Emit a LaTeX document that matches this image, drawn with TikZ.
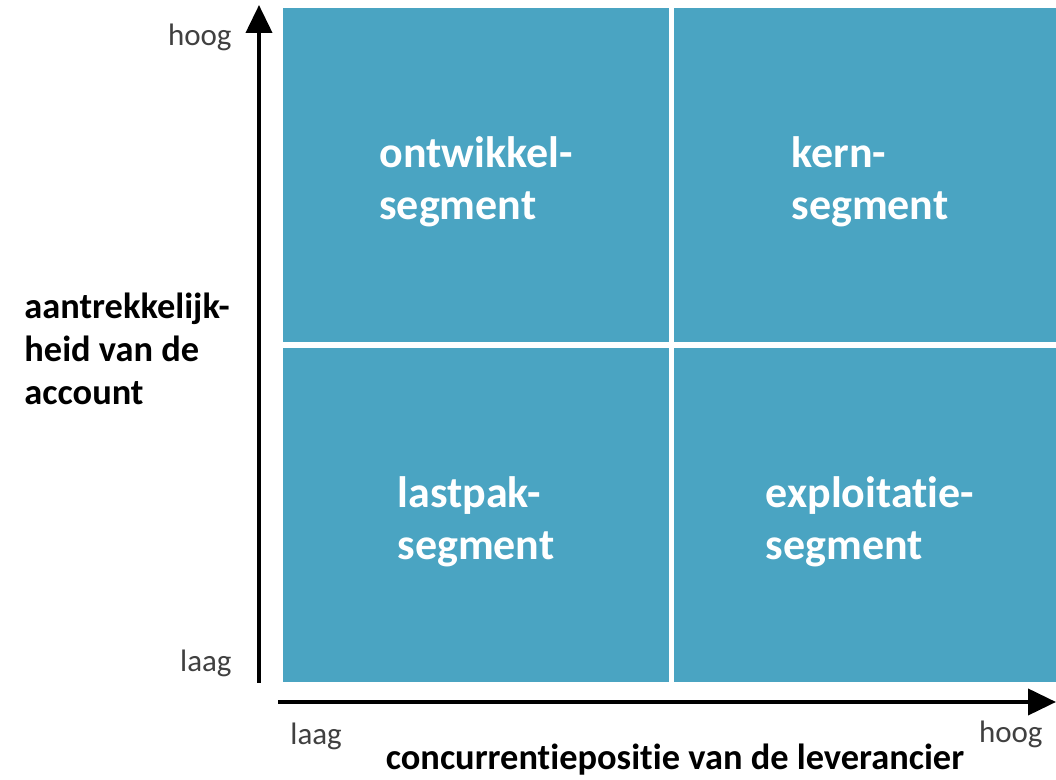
\documentclass[tikz,border=0pt]{standalone}
\usepackage{fontspec}
\setmainfont[Ligatures=NoCommon]{Carlito}
\usetikzlibrary{arrows.meta}
\definecolor{segblue}{RGB}{74,164,194}

\begin{document}
\begin{tikzpicture}[x=0.5pt,y=0.5pt,
  quad/.style={fill=segblue, inner sep=0pt, minimum height=167pt},
  qtext/.style={inner sep=0pt, align=left, text=white, yshift=-3.5pt, font=\fontsize{22}{26}\selectfont\bfseries},
  axis/.style={line width=2pt, -{Triangle[length=14pt,width=13pt]}},
  tick/.style={font=\fontsize{15.5}{18}\selectfont, text=black!75, inner sep=0pt},
  title/.style={font=\fontsize{18.2}{21.5}\selectfont\bfseries, align=left, inner sep=0pt}]
\useasboundingbox (0,0) rectangle (1056,780);
% quadrants
\node[quad, minimum width=193pt, label={[qtext]center:{ontwikkel-\\segment}}] (ontw) at (476,605) {};
\node[quad, minimum width=196pt, label={[qtext]center:{kern-\\segment}}] (kern) at (870,605) {};
\node[quad, minimum width=193pt, label={[qtext]center:{lastpak-\\segment}}] (last) at (476,265) {};
\node[quad, minimum width=196pt, label={[qtext]center:{exploitatie-\\segment}}] (expl) at (870,265) {};
% axes
\coordinate (ybot) at (259,97);
\coordinate (ytop) at (259,775);
\coordinate (xbeg) at (278,78);
\coordinate (xend) at (1056,78);
\draw[axis] (ybot) -- (ytop);
\draw[axis] (xbeg) -- (xend);
% labels
\node[tick, anchor=base east] (yhoog) at (232,734) {hoog};
\node[tick, anchor=base east] (ylaag) at (232,108) {laag};
\node[tick, anchor=base west] (xlaag) at (290,35) {laag};
\node[tick, anchor=base east] (xhoog) at (1043,37) {hoog};
\node[title, anchor=base] (xtitle) at (675,10) {concurrentiepositie van de leverancier};
\node[title, anchor=base west] (ytitle) at (24,375) {aantrekkelijk-\\heid van de\\account};
\end{tikzpicture}
\end{document}
